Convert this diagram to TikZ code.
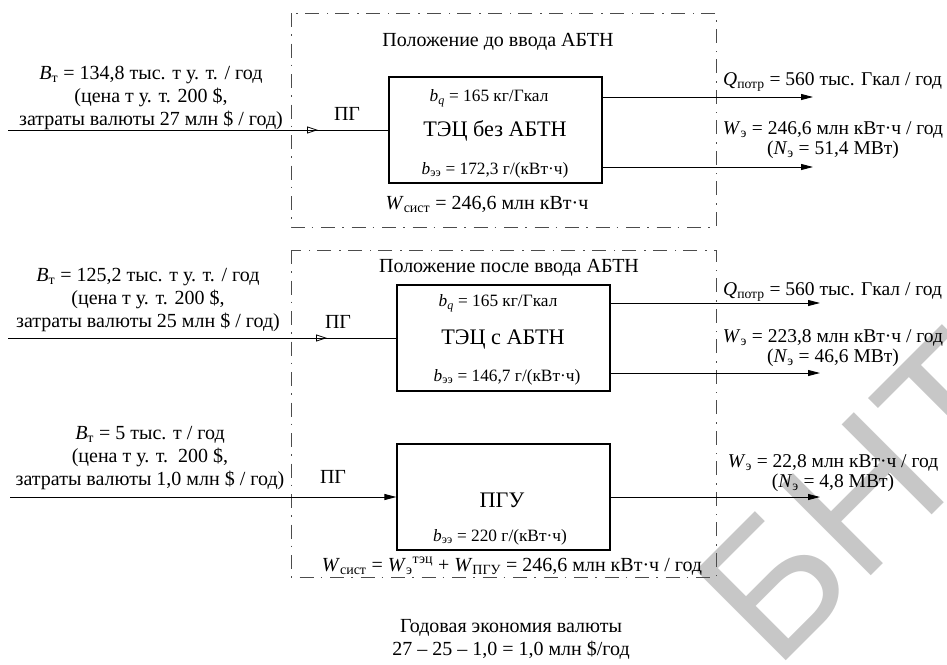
\documentclass[tikz,border=0pt]{standalone}
\usepackage{fontspec}
\setmainfont{Liberation Serif}
\newfontfamily\wmfont{Liberation Sans}
\usetikzlibrary{arrows.meta,decorations.markings}
\begin{document}
\begin{tikzpicture}[x=1pt,y=-1pt,
  txt/.style={font=\fontsize{20}{23}\selectfont, inner sep=0pt, align=center},
  rtxt/.style={font=\fontsize{19.5}{20}\selectfont, inner sep=0pt, align=center},
  smalltxt/.style={font=\fontsize{17.3}{20}\selectfont, inner sep=0pt},
  bigtxt/.style={font=\fontsize{22.2}{26}\selectfont, inner sep=0pt},
  zone/.style={draw=black!70, line width=0.8pt, dash pattern=on 14pt off 7pt on 1.5pt off 8pt},
  unitbox/.style={draw, line width=1.2pt, minimum width=213pt, minimum height=106pt, inner sep=0pt},
  flow/.style={line width=0.9pt, -{Triangle[length=12pt,width=6pt]}},
  inflow/.style={line width=0.9pt},
  openmark/.style={postaction={decorate}, decoration={markings, mark=at position #1 with {\arrow{Triangle[open,length=11pt,width=7pt,line width=0.8pt]}}}},
]
\useasboundingbox (0,0) rectangle (947,664);

% watermark
\node[font=\wmfont\fontsize{185}{185}\selectfont, text=black!22, rotate=45, anchor=base west, inner sep=0pt] (wm) at (775,672) {БНТУ};

% zones
\draw[zone] (291,13) rectangle (716,227);
\draw[zone] (291,250) rectangle (716,577);

% unit boxes
\node[unitbox] (b1) at (495.5,130) {};
\node[unitbox] (b2) at (503.5,338) {};
\node[unitbox] (b3) at (503.5,497) {};

% box contents
\node[smalltxt] (b1q) at (489,98) {\textit{b}\textsubscript{\textit{q}} = 165 кг/Гкал};
\node[bigtxt] (b1n) at (495,131) {ТЭЦ без АБТН};
\node[smalltxt] (b1e) at (495,170) {\textit{b}\textsubscript{ээ} = 172,3 г/(кВт·ч)};

\node[smalltxt] (b2q) at (498,303) {\textit{b}\textsubscript{\textit{q}} = 165 кг/Гкал};
\node[bigtxt] (b2n) at (503,340) {ТЭЦ с АБТН};
\node[smalltxt] (b2e) at (507,377) {\textit{b}\textsubscript{ээ} = 146,7 г/(кВт·ч)};

\node[bigtxt] (b3n) at (502,500) {ПГУ};
\node[smalltxt] (b3e) at (500,537) {\textit{b}\textsubscript{ээ} = 220 г/(кВт·ч)};

% zone labels
\node[txt] (z1t) at (498,42) {Положение до ввода АБТН};
\node[txt] (z1w) at (487,204) {\textit{W}\textsubscript{сист} = 246,6 млн кВт·ч};
\node[txt] (z2t) at (509,268) {Положение после ввода АБТН};
\node[txt] (z2w) at (512,566) {\textit{W}\textsubscript{сист} = \textit{W}\textsubscript{э}\textsuperscript{тэц} + \textit{W}\textsubscript{ПГУ} = 246,6 млн кВт·ч / год};

% inputs
\coordinate (in1) at (8,130);
\coordinate (in2) at (8,338);
\coordinate (in3) at (10,497);
\draw[inflow, openmark=310pt] (in1) -- (b1.west);
\draw[inflow, openmark=319pt] (in2) -- (b2.west);
\draw[flow] (in3) -- (b3.west);

\node[txt] (l1) at (151,98) {\textit{B}\textsubscript{т} = 134,8 тыс. т у. т. / год\\(цена т у. т. 200 \$,\\затраты валюты 27 млн \$ / год)};
\node[txt] (l2) at (148,300) {\textit{B}\textsubscript{т} = 125,2 тыс. т у. т. / год\\(цена т у. т. 200 \$,\\затраты валюты 25 млн \$ / год)};
\node[txt] (l3) at (150,458) {\textit{B}\textsubscript{т} = 5 тыс. т / год\\(цена т у. т.\ \ 200 \$,\\затраты валюты 1,0 млн \$ / год)};

\node[txt] (pg1) at (347,114) {ПГ};
\node[txt] (pg2) at (338,322) {ПГ};
\node[txt] (pg3) at (333,477) {ПГ};

% outputs
\coordinate (o1a) at (813,97);
\coordinate (o1b) at (813,167);
\coordinate (o2a) at (820,303);
\coordinate (o2b) at (820,373);
\coordinate (o3a) at (820,497);
\draw[flow] (b1.east |- o1a) -- (o1a);
\draw[flow] (b1.east |- o1b) -- (o1b);
\draw[flow] (b2.east |- o2a) -- (o2a);
\draw[flow] (b2.east |- o2b) -- (o2b);
\draw[flow] (b3.east) -- (o3a);

\node[rtxt, anchor=west] (r1q) at (723,82) {\textit{Q}\textsubscript{потр} = 560 тыс. Гкал / год};
\node[rtxt] (r1w) at (833,140) {\textit{W}\textsubscript{э} = 246,6 млн кВт·ч / год\\(\textit{N}\textsubscript{э} = 51,4 МВт)};
\node[rtxt, anchor=west] (r2q) at (723,292) {\textit{Q}\textsubscript{потр} = 560 тыс. Гкал / год};
\node[rtxt] (r2w) at (833,348) {\textit{W}\textsubscript{э} = 223,8 млн кВт·ч / год\\(\textit{N}\textsubscript{э} = 46,6 МВт)};
\node[rtxt] (r3w) at (833,473) {\textit{W}\textsubscript{э} = 22,8 млн кВт·ч / год\\(\textit{N}\textsubscript{э} = 4,8 МВт)};

% bottom
\node[txt] (eco) at (511,639) {Годовая экономия валюты\\27 – 25 – 1,0 = 1,0 млн \$/год};
\end{tikzpicture}
\end{document}
